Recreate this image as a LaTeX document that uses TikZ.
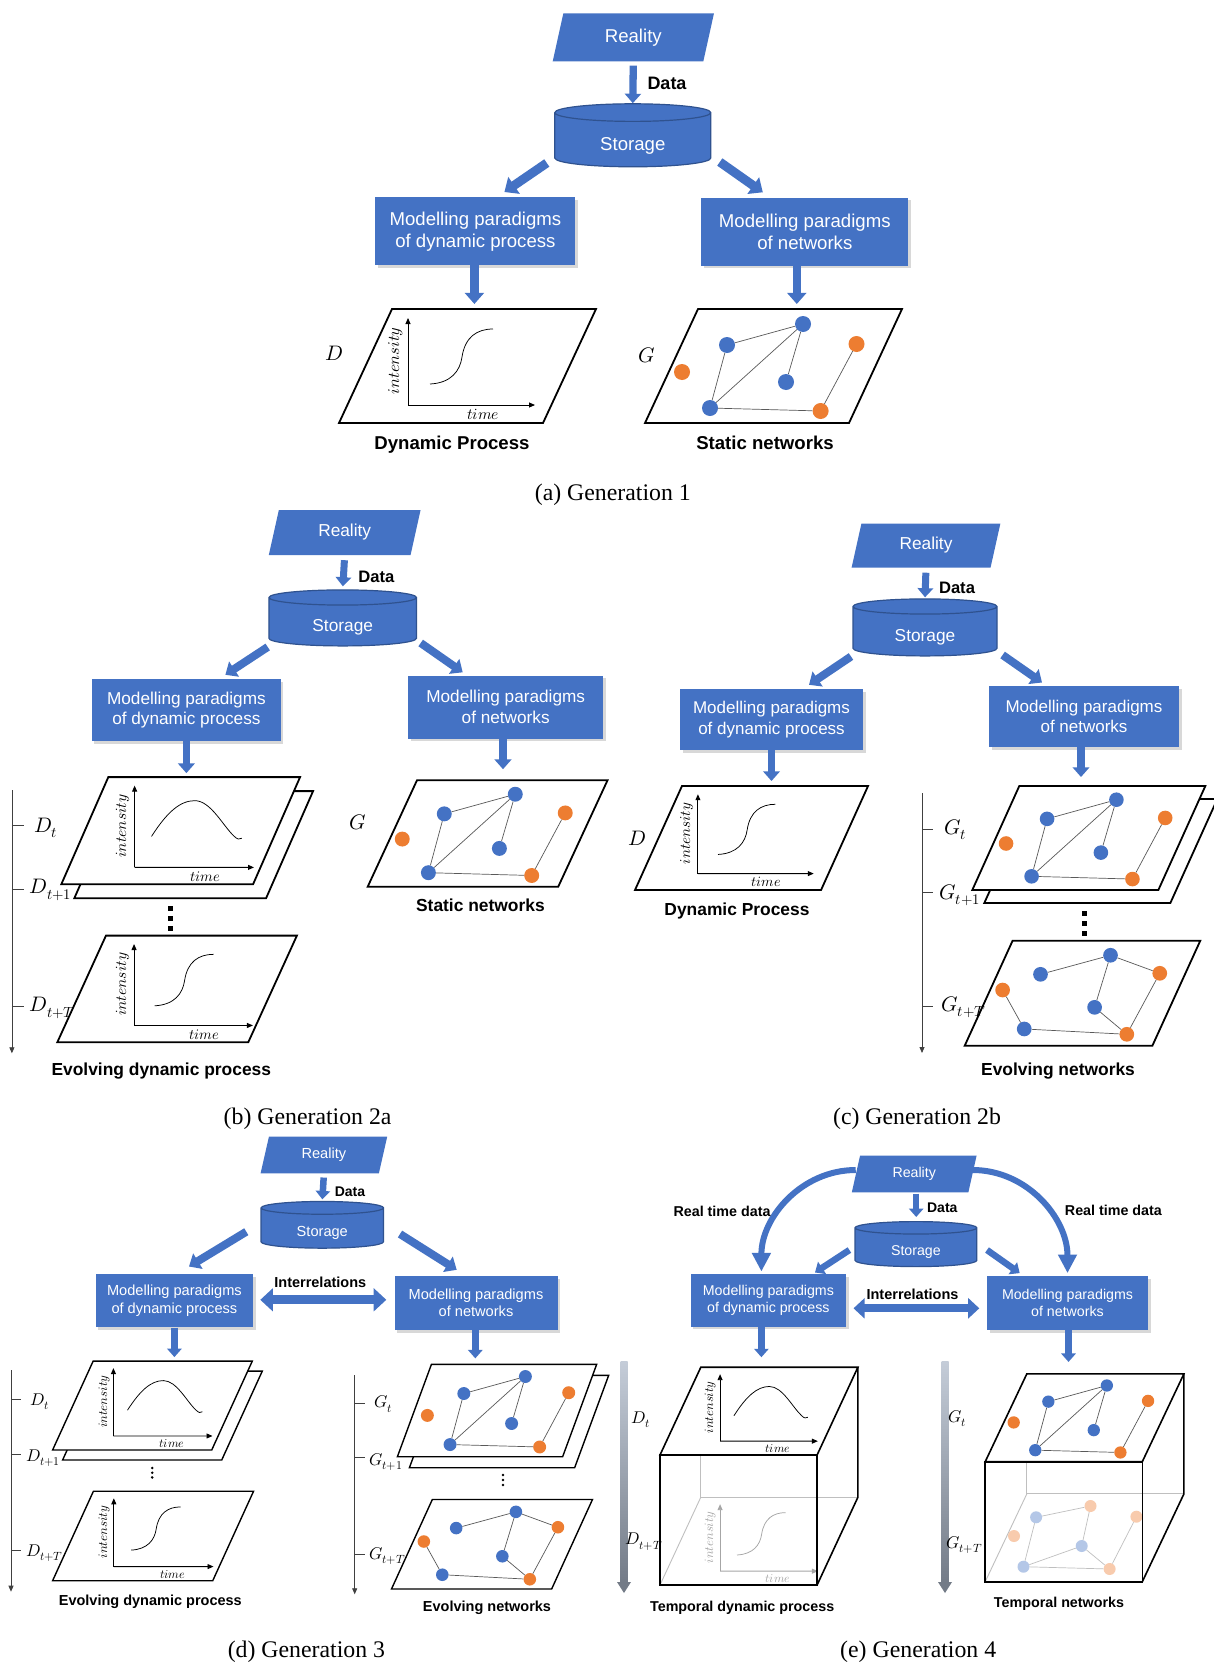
\documentclass[tikz,border=0pt]{standalone}
\usepackage{fontspec}
\usepackage{unicode-math}
\setmainfont{Liberation Serif}
\setsansfont{Liberation Sans}
\usetikzlibrary{shapes.geometric,arrows.meta,shadows,calc}
\definecolor{myblue}{HTML}{4472C4}
\definecolor{mydblue}{HTML}{2F528F}
\definecolor{myorange}{HTML}{ED7D31}
\definecolor{mylblue}{HTML}{B4C7E7}
\definecolor{mylorange}{HTML}{F8CBAD}
\definecolor{barlight}{HTML}{C4CCD8}
\definecolor{bardark}{HTML}{737B87}
\newcommand\myfs[2]{\fontsize{#1}{#2}\selectfont}
\tikzset{
 fbox/.style={fill=myblue, text=white, align=center, inner sep=0pt, drop shadow={shadow xshift=2.5pt, shadow yshift=-2.5pt, opacity=0.3}},
 freal/.style={trapezium, trapezium stretches=true, trapezium left angle=76, trapezium right angle=104, fill=myblue, text=white, inner sep=0pt},
 fstor/.style={cylinder, shape border rotate=90, aspect=#1, cylinder uses custom fill, cylinder body fill=myblue, cylinder end fill=myblue, draw=mydblue, line width=1.2pt, inner sep=0pt},
 stxt/.style={text=white, inner sep=0pt, font=\sffamily\myfs{#1}{#1}},
 barrow/.style={draw=myblue, line width=#1, -{Triangle[width=0pt 2.2, length=0pt 1.3]}},
 darrow/.style={draw=myblue, line width=#1, {Triangle[width=0pt 2.5, length=0pt 1.4]}-{Triangle[width=0pt 2.5, length=0pt 1.4]}},
 barrowc/.style={draw=myblue, line width=6pt, -{Triangle[width=0pt 3, length=0pt 3.1]}},
 plane/.style={draw=black, fill=white, line width=1.8pt, line join=miter},
 thinplane/.style={line width=1.4pt},
 axisline/.style={line width=0.9pt, -{Triangle[width=5pt,length=6pt]}},
 dcurve/.style={line width=0.75pt},
 netedge/.style={draw=black!65, line width=0.7pt},
 bdot/.style={circle, fill=myblue, inner sep=0pt, minimum size=16pt},
 odot/.style={circle, fill=myorange, inner sep=0pt, minimum size=16pt},
 lbdot/.style={circle, fill=mylblue, inner sep=0pt, minimum size=12pt},
 lodot/.style={circle, fill=mylorange, inner sep=0pt, minimum size=12pt},
 itext/.style={inner sep=0pt, font=\myfs{16.5}{16.5}},
 ttext/.style={inner sep=0pt, font=\myfs{15.5}{15.5}},
 mlab/.style={inner sep=0pt, font=\myfs{#1}{#1}},
 lbl/.style={inner sep=0pt, font=\sffamily\bfseries\myfs{#1}{#1}},
 captxt/.style={inner sep=0pt, font=\rmfamily\myfs{23.8}{26}},
 timeax/.style={draw=black!75, line width=0.8pt, -{Triangle[width=5pt,length=6pt]}},
 tickline/.style={draw=black!75, line width=0.8pt},
 sqd/.style={rectangle, fill=black, minimum size=5pt, inner sep=0pt},
 smd/.style={circle, fill=black, minimum size=2.8pt, inner sep=0pt},
 hid/.style={draw=black!25, line width=0.9pt},
 cubeline/.style={draw=black, line width=1.6pt, line join=miter},
 fedge/.style={draw=black!25, line width=0.7pt}
}
% plane frame: #1 skew, #2 name, #3 extra style
\newcommand\dframe[3]{%
 \draw[plane,#3] (0,0) coordinate (#2bl) -- (204,0) coordinate (#2br) -- ({204+#1},-114) coordinate (#2tr) -- (#1,-114) coordinate (#2tl) -- cycle;
 \coordinate (#2top) at ({102+#1},-114);}
\newcommand\scurve[1]{\draw[dcurve,#1] (91,-39) .. controls (112,-40) and (121,-52) .. (123,-66) .. controls (126,-86) and (138,-94) .. (154,-94);}
\newcommand\bcurve[1]{\draw[dcurve,#1] (87,-51) .. controls (103,-76) and (117,-89) .. (133,-89) .. controls (150,-89) and (163,-62) .. (175,-51) .. controls (178,-48) and (181,-47) .. (183,-49);}
% plot: #1 curve, #2 colour, #3 prefix, #4 xshift
\newcommand\dynplot[4]{%
 \begin{scope}[xshift=#4pt]
 \draw[axisline,#2] (69,-18) coordinate (#3o) -- (69,-105);
 \draw[axisline,#2] (#3o) -- (196,-18);
 #1{#2}
 \node[itext,text=#2,rotate=90] (#3i) at (57,-62) {$intensity$};
 \node[ttext,text=#2] (#3m) at (144,-8.5) {$time$};
 \end{scope}}
\newcommand\netA[1]{%
 \node[bdot] (#1a) at (82,-78) {};
 \node[bdot] (#1b) at (158,-99) {};
 \node[bdot] (#1c) at (141,-41) {};
 \node[bdot] (#1d) at (65,-15) {};
 \node[odot] (#1e) at (37,-51) {};
 \node[odot] (#1f) at (211.5,-79) {};
 \node[odot] (#1g) at (175.6,-12) {};
 \draw[netedge] (#1a) -- (#1b) (#1a) -- (#1d) (#1d) -- (#1b) (#1b) -- (#1c) (#1d) -- (#1g) (#1g) -- (#1f);}
\newcommand\netB[1]{%
 \node[bdot] (#1a) at (82.4,-77.6) {};
 \node[bdot] (#1b) at (158.5,-98.3) {};
 \node[bdot] (#1c) at (141.2,-41.7) {};
 \node[bdot] (#1d) at (64.7,-18.2) {};
 \node[odot] (#1e) at (41.2,-60.5) {};
 \node[odot] (#1f) at (212,-78.7) {};
 \node[odot] (#1g) at (176.2,-12.4) {};
 \draw[netedge] (#1a) -- (#1b) (#1b) -- (#1f) (#1b) -- (#1c) (#1c) -- (#1g) (#1f) -- (#1g) (#1e) -- (#1d) (#1d) -- (#1g);}
\begin{document}
\begin{tikzpicture}[x=1pt,y=-1pt]
\useasboundingbox (0,0) rectangle (1214,1662);
\fill[white] (0,0) rectangle (1214,1662);
%%%%%%%%%%%%%%%% GEN 1
\node[freal, minimum width=162, minimum height=48, font=\sffamily\myfs{18.6}{22}] (r1) at (633.3,37.5) {Reality};
\node[fstor=0.27, minimum width=156, minimum height=63, font=\sffamily\myfs{18.6}{22}] (s1) at (632.8,140) {\phantom{Storage}};
\node[stxt=18.6] (s1t) at ($(s1.center)+(0,6)$) {Storage};
\draw[barrow=7.3pt, shorten <=4pt] (r1.south) -- (s1.north);
\node[lbl=18] (d1) at (667,83.3) {Data};
\node[fbox, minimum width=200, minimum height=68, font=\sffamily\myfs{18.6}{22}] (b1l) at (475.4,231.2) {Modelling paradigms\\of dynamic process};
\node[fbox, minimum width=207, minimum height=68, font=\sffamily\myfs{18.6}{22}] (b1r) at (804.8,231.5) {Modelling paradigms\\of networks};
\draw[barrow=9pt] ($(s1.center)+(-86,23)$) -- ($(b1l.north)+(29,-5)$);
\draw[barrow=9pt] ($(s1.center)+(87,22)$) -- ($(b1r.north)+(-42,-5)$);
\begin{scope}[shift={(339,423)}, transform shape]
 \dframe{53}{p1}{}
 \dynplot{\scurve}{black}{q1}{0}
\end{scope}
\begin{scope}[shift={(645,423)}, transform shape]
 \dframe{53}{g1}{}
 \netA{n1}
\end{scope}
\draw[barrow=8.5pt, shorten >=5pt] ([xshift=-1pt]b1l.south) -- ([xshift=-1pt]b1l.south |- p1top);
\draw[barrow=8.5pt, shorten >=5pt] ([xshift=-8pt]b1r.south) -- ([xshift=-8pt]b1r.south |- g1top);
\node[mlab=21] (D1) at (334,353) {$D$};
\node[mlab=21] (G1) at (647,355) {$G$};
\node[lbl=18.6] (t1a) at (452,445) {Dynamic Process};
\node[lbl=18.6] (t1b) at (765,443.3) {Static networks};
\node[captxt] (ca) at (612.8,495) {(a) Generation 1};
%%%%%%%%%%%%%%%% GEN 2a
\node[freal, minimum width=152, minimum height=45, font=\sffamily\myfs{17.3}{20}] (r2a) at (344.7,532.5) {Reality};
\node[fstor=0.25, minimum width=147.5, minimum height=56, font=\sffamily\myfs{17.3}{20}] (s2a) at (342.7,622) {\phantom{Storage}};
\node[stxt=17.3] (s2at) at ($(s2a.center)+(0,5)$) {Storage};
\draw[barrow=7pt, shorten <=5pt, shorten >=3pt] (r2a.south) -- (s2a.north);
\node[lbl=16.6] (d2a) at (376.4,577) {Data};
\node[fbox, minimum width=189, minimum height=62, font=\sffamily\myfs{17.2}{20.5}] (b2al) at (186.4,710) {Modelling paradigms\\of dynamic process};
\node[fbox, minimum width=195, minimum height=63, font=\sffamily\myfs{17.2}{20.5}] (b2ar) at (505.7,707) {Modelling paradigms\\of networks};
\draw[barrow=8pt] ($(s2a.center)+(-75,25)$) -- ($(b2al.north)+(39,-4)$);
\draw[barrow=8pt] ($(s2a.center)+(78,21)$) -- ($(b2ar.north)+(-43,-3)$);
\begin{scope}[shift={(74.3,898.3)}, scale=.94, transform shape] \dframe{50}{k2a}{} \end{scope}
\begin{scope}[shift={(61.3,884.3)}, scale=.94, transform shape] \dframe{50}{p2a}{} \dynplot{\bcurve}{black}{q2a}{9} \end{scope}
\begin{scope}[shift={(57.3,1042.3)}, scale=.936, transform shape] \dframe{52}{p2aT}{} \dynplot{\scurve}{black}{q2aT}{13} \end{scope}
\begin{scope}[shift={(367.7,886.7)}, scale=.934, transform shape] \dframe{52.8}{g2a}{} \netA{n2a} \end{scope}
\draw[barrow=7.5pt, shorten >=4pt] (b2al.south) -- (b2al.south |- p2atop);
\draw[barrow=7.5pt, shorten >=11pt] ([xshift=-2.7pt]b2ar.south) -- ([xshift=-2.7pt]b2ar.south |- g2atop);
\coordinate (a2t) at (11.9,790); \coordinate (a2b) at (11.9,1053.3);
\draw[timeax] (a2t) -- (a2b);
\draw[tickline] (11.9,825) -- (24,825) (11.9,889) -- (24,889) (11.9,1006) -- (24,1006);
\node[mlab=21, anchor=west] (Dt2a) at (34,828) {$D_t$};
\node[mlab=21, anchor=west] (Dt12a) at (29.5,890) {$D_{t+1}$};
\node[mlab=21, anchor=west] (DtT2a) at (29.5,1008) {$D_{t+T}$};
\node[sqd] (e2a1) at (170,908) {}; \node[sqd] (e2a2) at (170,918) {}; \node[sqd] (e2a3) at (170,928) {};
\node[mlab=21] (G2a) at (357.8,822.7) {$G$};
\node[lbl=17.4] (t2a1) at (161.3,1070.7) {Evolving dynamic process};
\node[lbl=17.4] (t2a2) at (480.4,905) {Static networks};
\node[captxt] (cb) at (307.6,1119) {(b) Generation 2a};
%%%%%%%%%%%%%%%% GEN 2b
\node[freal, minimum width=149, minimum height=44, font=\sffamily\myfs{17.3}{20}] (r2b) at (926,545.5) {Reality};
\node[fstor=0.25, minimum width=144, minimum height=57, font=\sffamily\myfs{17.3}{20}] (s2b) at (925,631.5) {\phantom{Storage}};
\node[stxt=17.3] (s2bt) at ($(s2b.center)+(0,6)$) {Storage};
\draw[barrow=7pt, shorten <=5pt, shorten >=1pt] (r2b.south) -- (s2b.north);
\node[lbl=16.6] (d2b) at (957,588) {Data};
\node[fbox, minimum width=183, minimum height=61, font=\sffamily\myfs{17}{20.5}] (b2bl) at (771.5,719.5) {Modelling paradigms\\of dynamic process};
\node[fbox, minimum width=190, minimum height=61, font=\sffamily\myfs{17}{20.5}] (b2br) at (1084,716.5) {Modelling paradigms\\of networks};
\draw[barrow=8pt] ($(s2b.center)+(-74,25)$) -- ($(b2bl.north)+(37.5,-4)$);
\draw[barrow=8pt] ($(s2b.center)+(77.6,23.5)$) -- ($(b2br.north)+(-42,-3.3)$);
\begin{scope}[shift={(635,890)}, scale=.912, transform shape] \dframe{51.5}{p2b}{} \dynplot{\scurve}{black}{q2b}{0} \end{scope}
\begin{scope}[shift={(984.3,903)}, scale=.912, transform shape] \dframe{51.5}{k2b}{} \end{scope}
\begin{scope}[shift={(972.3,890)}, scale=.912, transform shape] \dframe{51.5}{g2b}{} \netA{n2b} \end{scope}
\begin{scope}[shift={(964.7,1045.7)}, scale=.92, transform shape] \dframe{52}{g2bT}{} \netB{m2b} \end{scope}
\draw[barrow=7.5pt, shorten >=5pt] (b2bl.south) -- (b2bl.south |- p2btop);
\draw[barrow=7.5pt, shorten >=9pt] ([xshift=-3pt]b2br.south) -- ([xshift=-3pt]b2br.south |- g2btop);
\coordinate (a2bt) at (922,793); \coordinate (a2bb) at (922,1053);
\draw[timeax] (a2bt) -- (a2bb);
\draw[tickline] (922,829) -- (933,829) (922,892) -- (933,892) (922,1006) -- (933,1006);
\node[mlab=21, anchor=west] (Gt2b) at (944,830) {$G_t$};
\node[mlab=21, anchor=west] (Gt12b) at (939,895) {$G_{t+1}$};
\node[mlab=21, anchor=west] (GtT2b) at (941,1007) {$G_{t+T}$};
\node[mlab=21] (D2b) at (637,838) {$D$};
\node[sqd] (e2b1) at (1084,913) {}; \node[sqd] (e2b2) at (1084,923) {}; \node[sqd] (e2b3) at (1084,933) {};
\node[lbl=17.4] (t2b1) at (737,911) {Dynamic Process};
\node[lbl=17.4] (t2b2) at (1058,1071.5) {Evolving networks};
\node[captxt] (cc) at (917,1119) {(c) Generation 2b};
%%%%%%%%%%%%%%%% GEN 3
\node[freal, minimum width=127, minimum height=36.7, font=\sffamily\myfs{14.6}{17}] (r3) at (323.9,1155) {Reality};
\node[fstor=0.25, minimum width=122.5, minimum height=46.7, font=\sffamily\myfs{14.6}{17}] (s3) at (322.3,1228.3) {\phantom{Storage}};
\node[stxt=14.6] (s3t) at ($(s3.center)+(0,5)$) {Storage};
\draw[barrow=6.5pt, shorten <=4pt, shorten >=1.5pt] (r3.south) -- (s3.north);
\node[lbl=14] (d3) at (350,1191.7) {Data};
\node[fbox, minimum width=157.4, minimum height=53, font=\sffamily\myfs{14.6}{17.3}] (b3l) at (174.4,1300.8) {Modelling paradigms\\of dynamic process};
\node[fbox, minimum width=163, minimum height=54, font=\sffamily\myfs{14.6}{17.3}] (b3r) at (476,1303) {Modelling paradigms\\of networks};
\draw[barrow=8pt] ($(s3.center)+(-76,3.4)$) -- ($(b3l.north)+(14.6,-7.6)$);
\draw[barrow=8pt] ($(s3.center)+(77.7,5.7)$) -- ($(b3r.north)+(-19.3,-6)$);
\draw[darrow=9pt, shorten <=7pt, shorten >=8pt] ([yshift=1pt]b3l.east) -- ([yshift=1pt]b3l.east -| b3r.west);
\node[lbl=14.5] (i3) at (320.3,1282.7) {Interrelations};
\begin{scope}[shift={(62.6,1460)}, scale=.78, transform shape] \dframe{52}{k3}{thinplane} \end{scope}
\begin{scope}[shift={(52.6,1450)}, scale=.78, transform shape] \dframe{52}{p3}{thinplane} \dynplot{\bcurve}{black}{q3}{9} \end{scope}
\begin{scope}[shift={(52.6,1580.7)}, scale=.785, transform shape] \dframe{52}{p3T}{thinplane} \dynplot{\scurve}{black}{q3T}{9} \end{scope}
\begin{scope}[shift={(409.4,1467.7)}, scale=.81, transform shape] \dframe{42}{k3g}{thinplane} \end{scope}
\begin{scope}[shift={(397.4,1456.7)}, scale=.81, transform shape] \dframe{42}{g3}{thinplane} \netA{n3} \end{scope}
\begin{scope}[shift={(391.5,1589)}, scale=.785, transform shape] \dframe{52}{g3T}{thinplane} \netB{m3} \end{scope}
\draw[barrow=6.5pt, shorten >=4pt] (b3l.south) -- (b3l.south |- p3top);
\draw[barrow=6.5pt, shorten >=6pt] ([xshift=-0.7pt]b3r.south) -- ([xshift=-0.7pt]b3r.south |- g3top);
\coordinate (a3t) at (11,1370); \coordinate (a3b) at (11,1591.7);
\draw[timeax] (a3t) -- (a3b);
\draw[tickline] (11,1399) -- (21,1399) (11,1454) -- (21,1454) (11,1550.7) -- (21,1550.7);
\coordinate (a3gt) at (354.7,1375); \coordinate (a3gb) at (354.7,1594.3);
\draw[timeax] (a3gt) -- (a3gb);
\draw[tickline] (354.7,1403.3) -- (365,1403.3) (354.7,1457.7) -- (365,1457.7) (354.7,1554.3) -- (365,1554.3);
\node[mlab=17, anchor=west] (Dt3) at (30,1401.7) {$D_t$};
\node[mlab=17, anchor=west] (Dt13) at (26,1458.3) {$D_{t+1}$};
\node[mlab=17, anchor=west] (DtT3) at (26,1553.3) {$D_{t+T}$};
\node[mlab=17, anchor=west] (Gt3) at (374,1404) {$G_t$};
\node[mlab=17, anchor=west] (Gt13) at (369,1461.7) {$G_{t+1}$};
\node[mlab=17, anchor=west] (GtT3) at (369,1556) {$G_{t+T}$};
\node[smd] (e3a) at (152.2,1468) {}; \node[smd] (e3b) at (152.2,1472.7) {}; \node[smd] (e3c) at (152.2,1477.4) {};
\node[smd] (e3d) at (503,1475) {}; \node[smd] (e3e) at (503,1480) {}; \node[smd] (e3f) at (503,1485) {};
\node[lbl=14.5] (t3a) at (150.3,1601.7) {Evolving dynamic process};
\node[lbl=14.5] (t3b) at (487,1607.3) {Evolving networks};
\node[captxt] (cd) at (306.4,1651.7) {(d) Generation 3};
%%%%%%%%%%%%%%%% GEN 4
\node[freal, minimum width=125.4, minimum height=36.7, font=\sffamily\myfs{14.2}{17}] (r4) at (914.2,1174) {Reality};
\node[fstor=0.25, minimum width=121.8, minimum height=45, font=\sffamily\myfs{14.2}{17}] (s4) at (915.9,1247.5) {\phantom{Storage}};
\node[stxt=14.2] (s4t) at ($(s4.center)+(0,5)$) {Storage};
\draw[barrow=6.5pt, shorten <=1pt, shorten >=4pt] ([xshift=2pt]r4.south) -- ([xshift=2pt]r4.south |- s4.north);
\node[lbl=14] (d4) at (942.3,1207.3) {Data};
\node[fbox, minimum width=155.8, minimum height=52.4, font=\sffamily\myfs{14.2}{17.3}] (b4l) at (768.4,1300.5) {Modelling paradigms\\of dynamic process};
\node[fbox, minimum width=161, minimum height=54, font=\sffamily\myfs{14.2}{17.3}] (b4r) at (1067.5,1303) {Modelling paradigms\\of networks};
\draw[barrow=6.5pt] ($(s4.center)+(-66.5,2.5)$) -- ($(b4l.north)+(46.6,-1.6)$);
\draw[barrow=6.5pt] ($(s4.center)+(71.1,2.5)$) -- ($(b4r.north)+(-47.8,-2.7)$);
\draw[darrow=8pt, shorten <=7pt, shorten >=7.5pt] ([yshift=-7.8pt]b4l.east) -- ([yshift=-7.8pt]b4l.east -| b4r.west);
\node[lbl=14.5] (i4) at (912.5,1294.3) {Interrelations};
\draw[barrowc] ([yshift=4pt]r4.west) to[out=180,in=90] ($(b4l.north)+(-7,-2.6)$);
\draw[barrowc] ([yshift=4pt]r4.east) to[out=0,in=90] ($(b4r.north)+(0,-2.7)$);
\node[lbl=14.3] (rt1) at (722,1211) {Real time data};
\node[lbl=14.3] (rt2) at (1113.4,1210) {Real time data};
% gradient time bars
\shade[top color=barlight, bottom color=bardark] (620.5,1361.7) rectangle (627.5,1583);
\fill[bardark] (617,1582) -- (631,1582) -- (624,1593) -- cycle;
\shade[top color=barlight, bottom color=bardark] (941.5,1361.7) rectangle (948.5,1583);
\fill[bardark] (938,1582) -- (952,1582) -- (945,1593) -- cycle;
% left cube
\draw[hid] (700.8,1367.2) -- (700.8,1497.2) -- (857.9,1497.2);
\draw[hid] (700.8,1497.2) -- (660,1585);
\begin{scope}[shift={(660,1585)}, scale=.77, transform shape] \dynplot{\scurve}{black!35}{q4f}{9} \end{scope}
\draw[cubeline] (660,1455) rectangle (817.1,1585);
\draw[cubeline] (857.9,1367.2) -- (857.9,1497.2) -- (817.1,1585);
\begin{scope}[shift={(660,1455)}, scale=.77, transform shape] \dframe{53}{c4}{line width=1.6pt} \dynplot{\bcurve}{black}{q4}{9} \end{scope}
% right cube
\draw[hid] (1026.8,1373.9) -- (1026.8,1493.9) -- (1183.9,1493.9);
\draw[hid] (1026.8,1493.9) -- (985.2,1581.7);
\node[lbdot] (f1) at (1036.1,1517.3) {};
\node[lodot] (f2) at (1090.5,1506) {};
\node[lodot] (f3) at (1136.4,1516.7) {};
\node[lodot] (f4) at (1014,1536) {};
\node[lbdot] (f5) at (1081.7,1546) {};
\node[lbdot] (f6) at (1023.5,1566.7) {};
\node[lodot] (f7) at (1109.6,1569) {};
\draw[fedge] (f1) -- (f2) (f1) -- (f6) (f2) -- (f5) (f6) -- (f5) (f6) -- (f7) (f5) -- (f7) (f3) -- (f7);
\draw[cubeline] (985.2,1461.7) rectangle (1142.3,1581.7);
\draw[cubeline] (1183.9,1373.9) -- (1183.9,1493.9) -- (1142.3,1581.7);
\begin{scope}[shift={(985.2,1461.7)}, scale=.77, transform shape] \dframe{54}{c4g}{line width=1.6pt} \netA{n4} \end{scope}
\draw[barrow=6.5pt, shorten >=10pt] ([xshift=-7pt]b4l.south) -- ([xshift=-7pt]b4l.south |- c4top);
\draw[barrow=6.5pt, shorten >=12pt] ([xshift=1pt]b4r.south) -- ([xshift=1pt]b4r.south |- c4gtop);
\node[mlab=17] (Dt4) at (640.7,1420) {$D_t$};
\node[mlab=17] (DtT4) at (644,1541.7) {$D_{t+T}$};
\node[mlab=17] (Gt4) at (957.3,1418.3) {$G_t$};
\node[mlab=17] (GtT4) at (964.2,1545) {$G_{t+T}$};
\node[lbl=14.3] (t4a) at (742.2,1607.3) {Temporal dynamic process};
\node[lbl=14.3] (t4b) at (1059,1603.3) {Temporal networks};
\node[captxt] (ce) at (918.2,1651.7) {(e) Generation 4};
\end{tikzpicture}
\end{document}
